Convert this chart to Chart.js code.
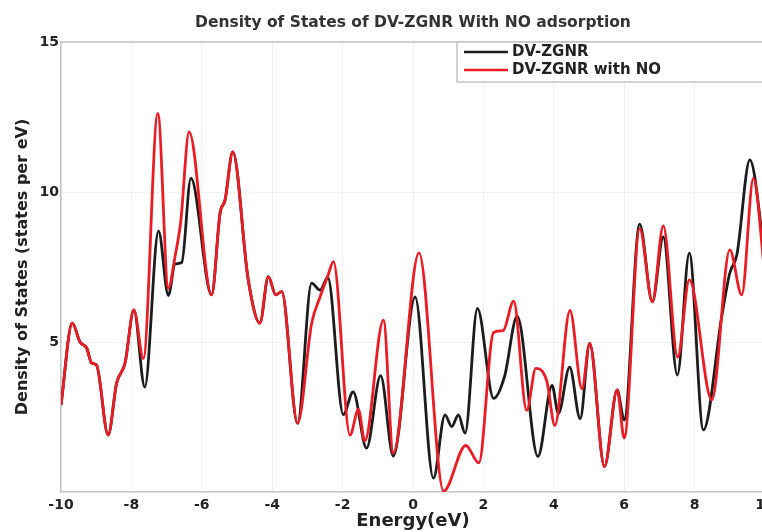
<!DOCTYPE html>
<html>
<head>
<meta charset="utf-8">
<script src="https://cdn.jsdelivr.net/npm/chart.js@4.4.0/dist/chart.umd.min.js"></script>
<style>
  html, body { margin: 0; padding: 0; overflow: hidden; background: #fff; }
  #wrap { width: 770px; height: 532px; }
</style>
</head>
<body>
<div id="wrap"><canvas id="dosChart" width="770" height="532"></canvas></div>
<script>
// DOS of the bare DV-ZGNR ribbon
const energyBare = [-10, -9.68, -9.46, -9.27, -9.13, -8.99, -8.66, -8.42, -8.18, -7.93, -7.62, -7.23, -6.95, -6.76, -6.57, -6.31,
  -5.72, -5.48, -5.34, -5.12, -4.68, -4.35, -4.11, -3.9, -3.73, -3.28, -2.88, -2.64, -2.42, -1.98, -1.7, -1.32, -0.92, -0.56,
  0.06, 0.58, 0.91, 1.1, 1.29, 1.48, 1.83, 2.29, 2.6, 2.96, 3.55, 3.95, 4.13, 4.45, 4.75, 5.02, 5.44, 5.8, 6.0, 6.44, 6.8,
  7.11, 7.51, 7.85, 8.25, 8.77, 9.0, 9.2, 9.57, 10];
const dosBare = [2.9, 5.63, 5.0, 4.8, 4.3, 4.23, 1.9, 3.63, 4.3, 6.07, 3.5, 8.7, 6.55, 7.6, 7.65, 10.46,
  6.57, 9.3, 9.73, 11.34, 7.07, 5.63, 7.18, 6.57, 6.68, 2.29, 6.96, 6.73, 7.15, 2.58, 3.34, 1.46, 3.88, 1.2,
  6.5, 0.46, 2.57, 2.18, 2.57, 1.96, 6.12, 3.12, 3.85, 5.86, 1.18, 3.55, 2.62, 4.16, 2.44, 4.95, 0.85, 3.4, 2.4, 8.93, 6.34,
  8.5, 3.9, 7.96, 2.07, 5.84, 7.3, 7.9, 11.07, 7.8];

// DOS after NO adsorption
const energyNO = [-10, -9.68, -9.46, -9.27, -9.13, -8.99, -8.66, -8.42, -8.18, -7.93, -7.66, -7.25, -6.95, -6.76, -6.6, -6.36,
  -5.72, -5.48, -5.34, -5.12, -4.68, -4.35, -4.11, -3.9, -3.73, -3.28, -2.88, -2.64, -2.42, -2.26, -1.79, -1.55, -1.37, -0.84, -0.56,
  0.17, 0.87, 1.5, 1.87, 2.29, 2.56, 2.86, 3.23, 3.49, 3.8, 4.03, 4.46, 4.8, 5.02, 5.44, 5.8, 6.0, 6.44, 6.8,
  7.11, 7.52, 7.85, 8.49, 9.0, 9.34, 9.67, 10];
const dosNO = [2.9, 5.63, 5.0, 4.8, 4.3, 4.23, 1.9, 3.63, 4.3, 6.07, 4.45, 12.62, 6.8, 7.85, 9.0, 12.0,
  6.57, 9.3, 9.73, 11.34, 7.07, 5.63, 7.18, 6.57, 6.68, 2.29, 5.62, 6.5, 7.2, 7.68, 1.9, 2.75, 1.7, 5.73, 1.3,
  7.97, 0.03, 1.55, 0.97, 5.32, 5.38, 6.36, 2.72, 4.12, 3.7, 2.22, 6.05, 3.44, 4.95, 0.85, 3.4, 1.8, 8.78, 6.34,
  8.87, 4.5, 7.07, 3.07, 8.07, 6.57, 10.45, 7.2];

const xTicks = [-10, -8, -6, -4, -2, 0, 2, 4, 6, 8, 10];
const yTicks = [5, 10, 15];

function toPoints(xs, ys) {
  return xs.map((x, i) => ({ x: x, y: ys[i] }));
}

Chart.defaults.font.family = "'DejaVu Sans', sans-serif";
Chart.defaults.font.weight = 'bold';
Chart.defaults.color = '#222';

const frameColor = '#c4c4c4';

// boxed legend in the top right corner + top edge of the axes frame
const legendBox = {
  id: 'legendBox',
  afterDraw(chart) {
    const { ctx, chartArea } = chart;
    ctx.save();
    ctx.strokeStyle = frameColor;
    ctx.lineWidth = 1.5;
    ctx.beginPath();
    ctx.moveTo(chartArea.left, chartArea.top);
    ctx.lineTo(chartArea.right, chartArea.top);
    ctx.stroke();

    const x0 = 457, y0 = chartArea.top;
    ctx.fillStyle = '#fff';
    ctx.fillRect(x0, y0, chart.width - x0, 40);
    ctx.strokeRect(x0, y0, chart.width - x0, 40);

    ctx.font = "bold 15px 'DejaVu Sans'";
    ctx.textBaseline = 'middle';
    chart.data.datasets.forEach((ds, i) => {
      const y = y0 + 10 + i * 18;
      ctx.strokeStyle = ds.borderColor;
      ctx.lineWidth = 2.5;
      ctx.beginPath();
      ctx.moveTo(x0 + 7, y);
      ctx.lineTo(x0 + 51, y);
      ctx.stroke();
      ctx.fillStyle = '#222';
      ctx.fillText(ds.label, x0 + 55, y);
    });
    ctx.restore();
  }
};

new Chart(document.getElementById('dosChart'), {
  type: 'line',
  data: {
    datasets: [
      {
        label: 'DV-ZGNR',
        data: toPoints(energyBare, dosBare),
        borderColor: '#1c1c1c',
        order: 1
      },
      {
        label: 'DV-ZGNR with NO',
        data: toPoints(energyNO, dosNO),
        borderColor: '#ea1c24',
        order: 0
      }
    ]
  },
  options: {
    responsive: false,
    animation: false,
    devicePixelRatio: 1,
    layout: { padding: { left: 0, right: 5, top: 0, bottom: 0 } },
    elements: {
      point: { radius: 0 },
      line: { borderWidth: 2.8, cubicInterpolationMode: 'monotone', fill: false }
    },
    plugins: {
      legend: { display: false },
      tooltip: { enabled: false },
      title: {
        display: true,
        text: 'Density of States of DV-ZGNR With NO adsorption',
        fullSize: false,
        color: '#333',
        font: { size: 15.5, weight: 'bold' },
        padding: { top: 14, bottom: 9.4 }
      }
    },
    scales: {
      x: {
        type: 'linear',
        min: -10,
        max: 10,
        afterBuildTicks: (s) => { s.ticks = xTicks.map(v => ({ value: v })); },
        afterFit: (s) => { s.height = 40; s.paddingLeft = 0; s.paddingRight = 0; },
        grid: { color: 'rgba(0,0,0,0.06)', drawTicks: false },
        border: { color: frameColor, width: 1.5 },
        ticks: { padding: 5, maxRotation: 0, font: { size: 14, weight: 'bold' } },
        title: { display: true, text: 'Energy(eV)', font: { size: 18, weight: 'bold' }, padding: 0 }
      },
      y: {
        min: 0,
        max: 15,
        afterBuildTicks: (s) => { s.ticks = yTicks.map(v => ({ value: v })); },
        afterFit: (s) => { s.width = 61; s.paddingTop = 0; s.paddingBottom = 0; },
        grid: { color: 'rgba(0,0,0,0.05)', drawTicks: false },
        border: { color: frameColor, width: 1.5 },
        ticks: { padding: 2, font: { size: 14, weight: 'bold' } },
        title: { display: true, text: 'Density of States (states per eV)', font: { size: 16, weight: 'bold' }, padding: { top: 13 } }
      }
    }
  },
  plugins: [legendBox]
});
</script>
</body>
</html>
